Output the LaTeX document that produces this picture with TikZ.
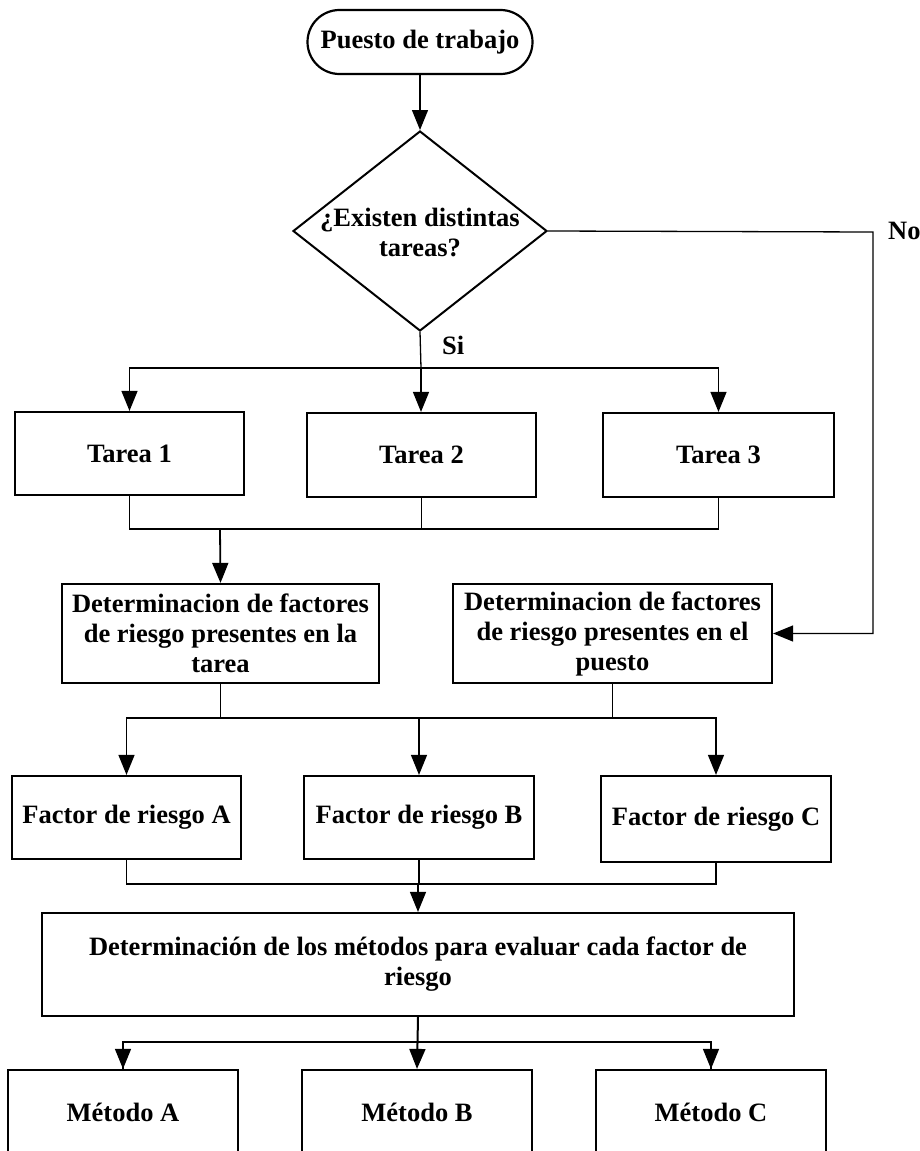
\documentclass[tikz,border=0pt]{standalone}
\usepackage{fontspec}
\setmainfont{Liberation Serif}
\usetikzlibrary{arrows.meta,shapes.geometric}
\tikzset{
  txt/.style={font=\bfseries\fontsize{26.5}{30}\selectfont, align=center, inner sep=0pt},
  box/.style={txt, draw, line width=2.2pt},
  conn/.style={line width=1.3pt},
  arr/.style={conn, -{Triangle[length=20pt,width=16pt]}}
}
\begin{document}
\begin{tikzpicture}[x=1pt,y=-1pt]
\useasboundingbox (0,0) rectangle (920,1151);
\clip (0,0) rectangle (920,1151);
% start
\node[box, rounded corners=32pt, minimum width=225pt, minimum height=64pt] (start) at (420,42) {Puesto de trabajo};
% decision
\node[diamond, draw, line width=2pt, minimum width=254pt, minimum height=200pt, inner sep=0pt] (dec) at (420,231) {};
\node[txt] (dect) at (420,232) {¿Existen distintas\\tareas?};
\draw[arr] (start.south) -- (dec.north);
% tasks
\node[box, minimum width=229pt, minimum height=83pt] (t1) at (129.5,453.5) {Tarea 1};
\node[box, minimum width=229pt, minimum height=84pt] (t2) at (421.5,455) {Tarea 2};
\node[box, minimum width=231pt, minimum height=84pt] (t3) at (718.5,455) {Tarea 3};
\coordinate (s1) at (421,368);
\draw[conn] (dec.south) -- (s1);
\node[txt, anchor=west] (si) at (442,345) {Si};
\draw[arr] (s1) -| (t1.north);
\draw[arr] (s1) -- (t2.north -| s1);
\draw[arr] (s1) -| (t3.north);
% determination boxes
\node[box, minimum width=317pt, minimum height=99pt] (d1) at (220.5,633.5) {Determinacion de factores\\de riesgo presentes en la\\tarea};
\node[box, minimum width=319pt, minimum height=99pt] (d2) at (612.5,633.5) {Determinacion de factores\\de riesgo presentes en el\\puesto};
\coordinate (m1) at (220,529);
\draw[conn] (t1.south) |- (m1);
\draw[conn] (t2.south) |- (m1);
\draw[conn] (t3.south) |- (m1);
\draw[arr, line width=1.8pt] (m1) -- (d1.north);
% No branch
\coordinate (nc) at (873,232);
\draw[arr] (dec.east) -- (nc) |- (d2.east);
\node[txt, anchor=west] (no) at (888,231) {No};
% factors
\node[box, minimum width=229pt, minimum height=83pt] (fa) at (126.5,817.5) {Factor de riesgo A};
\node[box, minimum width=230pt, minimum height=83pt] (fb) at (419,817.5) {Factor de riesgo B};
\node[box, minimum width=230pt, minimum height=86pt] (fc) at (716,819) {Factor de riesgo C};
\coordinate (m2) at (419,718);
\draw[conn] (d1.south) |- (m2);
\draw[conn] (d2.south) |- (m2);
\draw[arr] (m2) -| (fa.north);
\draw[arr] (m2) -- (fb.north);
\draw[arr] (m2) -| (fc.north);
% methods determination
\node[box, minimum width=752pt, minimum height=103pt] (big) at (418,964.5) {Determinación de los métodos para evaluar cada factor de\\riesgo};
\coordinate (m3) at (418,884);
\draw[conn] (fa.south) |- (m3);
\draw[conn] (fb.south) |- (m3);
\draw[conn] (fc.south) |- (m3);
\draw[arr] (m3) -- (big.north);
% methods
\node[box, minimum width=230pt, minimum height=85pt] (ma) at (123,1112.5) {Método A};
\node[box, minimum width=230pt, minimum height=85pt] (mb) at (417,1112.5) {Método B};
\node[box, minimum width=230pt, minimum height=85pt] (mc) at (711,1112.5) {Método C};
\coordinate (m4) at (417,1042);
\draw[conn] (m4) -| (ma.north);
\draw[conn] (m4) -| (mc.north);
\draw[arr] (ma.north |- m4) ++(0,0) -- (ma.north);
\draw[arr] (mc.north |- m4) -- (mc.north);
\draw[arr, line width=2pt] (big.south) -- (mb.north);
\end{tikzpicture}
\end{document}
